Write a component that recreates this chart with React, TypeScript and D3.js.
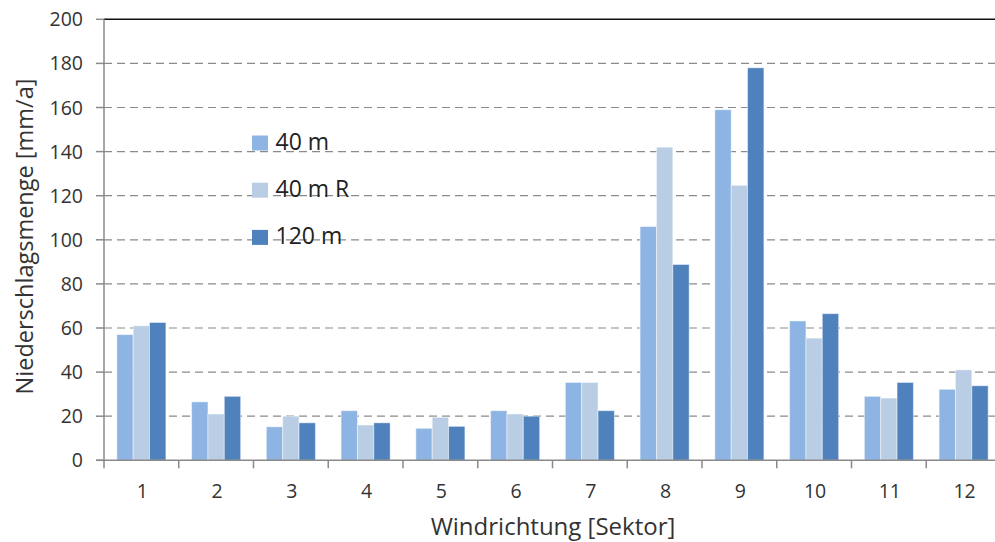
import React from "react";
import * as d3 from "d3";

const categories = ["1", "2", "3", "4", "5", "6", "7", "8", "9", "10", "11", "12"];
const seriesNames = ["40 m", "40 m R", "120 m"];
const values40 = [57, 26.5, 15.2, 22.5, 14.5, 22.5, 35.3, 106, 159, 63.2, 29, 32.2];
const values40R = [61, 21, 20, 16, 19.5, 21, 35.3, 142, 124.7, 55.4, 28.2, 41];
const values120 = [62.5, 29, 17, 17, 15.4, 20, 22.5, 88.8, 178, 66.5, 35.3, 33.8];
const yTicks = [0, 20, 40, 60, 80, 100, 120, 140, 160, 180, 200];
const colors = ["#8EB4E3", "#B9CDE5", "#4F81BD"];

const W = 995;
const H = 542;
const left = 104;
const right = 1001;
const top = 19.3;
const bottom = 460.3;
const font = "'Open Sans', 'DejaVu Sans', sans-serif";

export default function App() {
  const series = [values40, values40R, values120];
  const x = d3.scaleBand<string>().domain(categories).range([left, right]).padding(0);
  const y = d3.scaleLinear().domain([0, 200]).range([bottom, top]);
  const bw = x.bandwidth();
  const groupFrac = 0.656;
  const inner = d3
    .scaleBand<string>()
    .domain(seriesNames)
    .range([((1 - groupFrac) / 2) * bw, bw - ((1 - groupFrac) / 2) * bw])
    .padding(0);

  const tickXs = d3.range(categories.length + 1).map((i) => left + i * bw);

  return (
    <svg
      width={W}
      height={H}
      style={{ position: "absolute", left: 0, top: 0, background: "#fff" }}
      fontFamily={font}
    >
      <rect x={0} y={0} width={W} height={H} fill="#fff" />
      {/* gridlines */}
      {yTicks
        .filter((t) => t > 0 && t < 200)
        .map((t) => (
          <line
            key={"g" + t}
            x1={left}
            x2={W}
            y1={y(t)}
            y2={y(t)}
            stroke="#8a8a8a"
            strokeWidth={1.2}
            strokeDasharray="8,5"
          />
        ))}
      <line x1={left} x2={W} y1={y(200)} y2={y(200)} stroke="#111" strokeWidth={1.6} />
      {/* bars */}
      {categories.map((c, i) => (
        <g key={"c" + c} transform={`translate(${x(c)},0)`}>
          {series.map((s, j) => (
            <rect
              key={j}
              x={inner(seriesNames[j])}
              y={y(s[i])}
              width={inner.bandwidth()}
              height={y(0) - y(s[i])}
              fill={colors[j]}
              stroke="rgba(255,255,255,0.45)"
              strokeWidth={1}
            />
          ))}
        </g>
      ))}
      {/* axes */}
      <line x1={left} x2={left} y1={top} y2={bottom} stroke="#8a8a8a" strokeWidth={1.5} />
      <line x1={left - 8} x2={W} y1={bottom} y2={bottom} stroke="#8a8a8a" strokeWidth={1.5} />
      {yTicks.map((t) => (
        <g key={"yt" + t}>
          <line x1={left - 8} x2={left} y1={y(t)} y2={y(t)} stroke="#8a8a8a" strokeWidth={1.5} />
          <text
            x={83}
            y={y(t)}
            dy="0.36em"
            textAnchor="end"
            fontSize={19.5}
            fill="#333"
          >
            {t}
          </text>
        </g>
      ))}
      {tickXs.map((tx, i) => (
        <line key={"xt" + i} x1={tx} x2={tx} y1={bottom} y2={bottom + 8} stroke="#8a8a8a" strokeWidth={1.5} />
      ))}
      {categories.map((c) => (
        <text
          key={"xl" + c}
          x={(x(c) as number) + bw / 2 + 1}
          y={498}
          textAnchor="middle"
          fontSize={19.5}
          fill="#333"
        >
          {c}
        </text>
      ))}
      {/* axis titles */}
      <text x={553} y={535} textAnchor="middle" fontSize={24} fill="#333">
        Windrichtung [Sektor]
      </text>
      <text
        transform={`translate(33,236.5) rotate(-90)`}
        textAnchor="middle"
        fontSize={23.5}
        fill="#333"
      >
        Niederschlagsmenge [mm/a]
      </text>
      {/* legend */}
      {seriesNames.map((n, j) => (
        <g key={"lg" + n} transform={`translate(252,${150 + j * 47.2})`}>
          <rect x={0} y={-14.5} width={16} height={15} fill={colors[j]} />
          <text x={23.5} y={0} fontSize={23} fill="#222">
            {n}
          </text>
        </g>
      ))}
    </svg>
  );
}
